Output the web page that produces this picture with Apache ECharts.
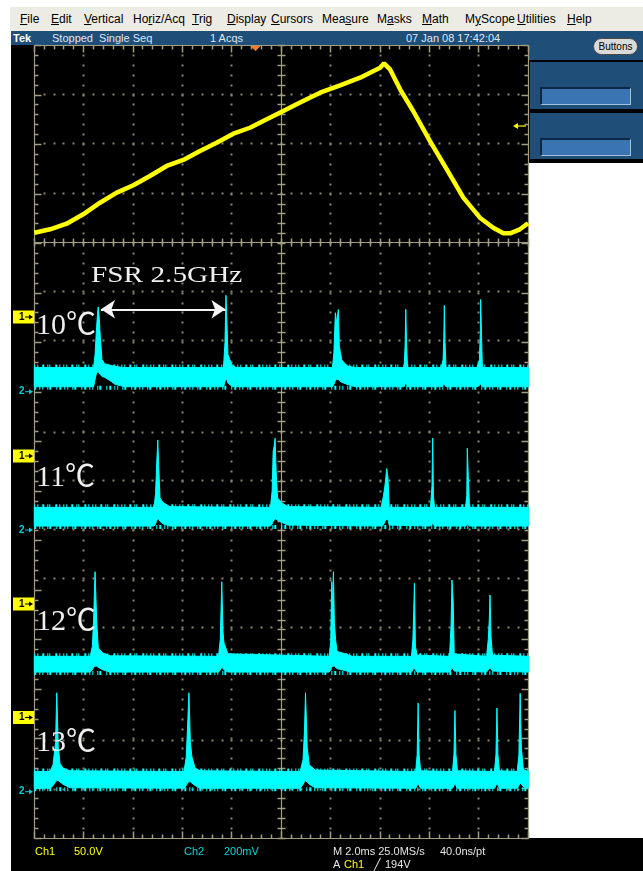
<!DOCTYPE html>
<html>
<head>
<meta charset="utf-8">
<script src="https://cdn.jsdelivr.net/npm/echarts@6/dist/echarts.min.js"></script>
<style>
  body { margin: 0; background: #fff; }
  #wrap { position: relative; width: 643px; height: 871px; overflow: hidden; background: #fff;
          font-family: 'Liberation Sans Narrow', 'Liberation Sans', Arial, sans-serif; }
  .abs { position: absolute; }
  #menubar { left: 10px; top: 7px; width: 633px; height: 24px; background: #ecebe4; }
  #menubar span { position: absolute; top: 0; line-height: 24px; font-size: 12px; color: #000; white-space: nowrap; }
  #status { left: 11px; top: 31px; width: 632px; height: 14px; background: #1f4e79; }
  #status span { position: absolute; top: 0; line-height: 14px; font-size: 11px; color: #dfe6ee; white-space: nowrap; }
  #rtop { left: 528px; top: 31px; width: 115px; height: 29px; background: #1f4e79; }
  #btn { left: 593px; top: 38px; width: 45px; height: 17px; box-sizing: border-box; background: #dadada;
         border: 1px solid #4a4a4a; border-radius: 9px; font-size: 10px; line-height: 15px; text-align: center; color: #000; }
  #rblack { left: 528px; top: 60px; width: 115px; height: 103px; background: #000; }
  .panel { left: 530px; width: 113px; background: #1f4e79; }
  .box { left: 540px; width: 91px; height: 18px; box-sizing: border-box; background: #3a75b1;
         border-top: 2px solid #0c2844; border-left: 2px solid #0c2844;
         border-right: 1px solid #a3c0dc; border-bottom: 1px solid #a3c0dc; }
  #screen { left: 11px; top: 45px; width: 517px; height: 826px; background: #000; }
  #strip { left: 11px; top: 838px; width: 632px; height: 33px; background: #000; }
  #main { left: 0; top: 0; width: 643px; height: 871px; z-index: 5; }
</style>
</head>
<body>
<div id="wrap">
  <div id="menubar" class="abs">
    <span style="left:10px"><u>F</u>ile</span>
    <span style="left:41px"><u>E</u>dit</span>
    <span style="left:74px"><u>V</u>ertical</span>
    <span style="left:123px">Ho<u>r</u>iz/Acq</span>
    <span style="left:182px"><u>T</u>rig</span>
    <span style="left:217px"><u>D</u>isplay</span>
    <span style="left:261px"><u>C</u>ursors</span>
    <span style="left:312px">Mea<u>s</u>ure</span>
    <span style="left:367px">M<u>a</u>sks</span>
    <span style="left:412px"><u>M</u>ath</span>
    <span style="left:455px">M<u>y</u>Scope</span>
    <span style="left:507px"><u>U</u>tilities</span>
    <span style="left:557px"><u>H</u>elp</span>
  </div>
  <div id="status" class="abs">
    <span style="left:2px;font-weight:bold;color:#fff">Tek</span>
    <span style="left:41px">Stopped&nbsp;&nbsp;Single Seq</span>
    <span style="left:199px">1 Acqs</span>
    <span style="left:395px">07 Jan 08 17:42:04</span>
  </div>
  <div id="rtop" class="abs"></div>
  <div id="btn" class="abs">Buttons</div>
  <div id="rblack" class="abs"></div>
  <div class="abs panel" style="top:62px;height:47px"></div>
  <div class="abs panel" style="top:113px;height:46px"></div>
  <div class="abs box" style="top:87px"></div>
  <div class="abs box" style="top:138px"></div>
  <div id="screen" class="abs"></div>
  <div id="strip" class="abs"></div>
  <div id="main" class="abs"></div>
</div>
<script>
// time axis: 2.0 ms/div, 10 div -> 0..20 ms
// Ch1 (yellow ramp), volts
const yelX = [0, 0.64, 1.31, 1.98, 2.66, 3.34, 4.01, 4.68, 5.36, 6.03, 6.71, 7.38, 8.06, 8.73, 9.41,
  10.08, 10.76, 11.57, 12.38, 13.19, 14.00, 14.16, 14.40, 14.81, 15.34, 16.02, 16.70, 17.37, 18.04,
  18.58, 18.99, 19.26, 19.66, 19.99];
const yelV = [9.9, 13.4, 19.1, 28.6, 40.4, 50.6, 58.1, 67.5, 77.7, 83.8, 92.9, 101.3, 110.5, 116.5, 125.1,
  133.5, 142.1, 152.1, 159.6, 167.3, 177.5, 181.9, 175.8, 155.5, 133.5, 103.0, 74.3, 45.5, 25.2,
  15.0, 9.3, 9.3, 13.4, 19.5];

// Ch2 transmission, mV above ground: upper and lower edge of the noise band
const t10X = [0, 2.40, 2.46, 2.52, 2.57, 2.59, 2.63, 2.67, 2.74, 2.86, 3.07, 3.27, 3.67,
  7.66, 7.72, 7.76, 7.80, 7.84, 8.00, 8.16,
  12.07, 12.13, 12.19, 12.24, 12.31, 12.35, 12.45, 12.66, 12.99,
  14.97, 15.01, 15.04, 15.07, 15.11,
  16.47, 16.55, 16.58, 16.60, 16.63, 16.67,
  17.92, 18.02, 18.06, 18.07, 18.11, 18.14, 20];
const t10Hi = [98, 98, 150, 260, 330, 345, 300, 225, 130, 113, 108, 102, 98,
  98, 200, 392, 280, 150, 110, 98,
  98, 160, 321, 279, 334, 183, 129, 105, 98,
  98, 180, 335, 200, 98,
  98, 130, 220, 351, 200, 98,
  98, 130, 250, 375, 220, 98, 98];
const t10Lo = [20, 20, 50, 76, 80, 80, 76, 70, 62, 58, 45, 30, 20,
  20, 40, 50, 50, 35, 22, 20,
  20, 30, 45, 50, 50, 45, 38, 30, 20,
  20, 30, 35, 30, 20,
  20, 25, 30, 30, 25, 20,
  20, 25, 30, 30, 25, 20, 20];

const t11X = [0, 4.85, 4.91, 4.96, 5.00, 5.04, 5.09, 5.21, 5.49,
  9.56, 9.63, 9.67, 9.71, 9.75, 9.79, 9.85, 10.03, 10.27,
  14.04, 14.13, 14.20, 14.27, 14.32, 14.37,
  16.04, 16.10, 16.13, 16.16, 16.20,
  17.46, 17.51, 17.53, 17.57, 17.62, 20];
const t11Hi = [92, 92, 150, 280, 366, 250, 130, 112, 95,
  92, 160, 320, 340, 373, 240, 130, 110, 95,
  92, 135, 183, 250, 210, 92,
  92, 180, 373, 140, 92,
  92, 140, 332, 220, 92, 92];
const t11Lo = [16, 16, 25, 40, 45, 45, 35, 25, 16,
  16, 25, 35, 40, 45, 45, 40, 30, 20,
  16, 20, 35, 45, 40, 20,
  16, 25, 25, 20, 16,
  16, 20, 25, 20, 16, 16];

const t12X = [0, 2.26, 2.35, 2.40, 2.46, 2.53, 2.59, 2.78, 3.07,
  7.46, 7.53, 7.56, 7.59, 7.64, 7.68, 7.84,
  11.94, 12.00, 12.04, 12.07, 12.11, 12.15, 12.20, 12.26, 12.65, 12.86,
  15.27, 15.33, 15.36, 15.39, 15.43, 15.50,
  16.81, 16.87, 16.91, 16.96, 17.00,
  18.31, 18.38, 18.42, 18.45, 18.49, 18.55, 20];
const t12Hi = [80, 80, 120, 228, 424, 215, 114, 93, 82,
  80, 150, 268, 383, 180, 134, 90,
  80, 140, 383, 300, 424, 215, 146, 100, 88, 80,
  80, 150, 261, 377, 120, 85,
  80, 200, 390, 302, 90,
  80, 150, 228, 329, 160, 85, 80];
const t12Lo = [16, 16, 25, 35, 40, 40, 35, 25, 16,
  16, 25, 30, 35, 30, 25, 16,
  16, 25, 35, 40, 40, 40, 35, 30, 20, 16,
  16, 25, 30, 30, 25, 16,
  16, 25, 30, 30, 20,
  16, 25, 30, 30, 30, 20, 16];

const t13X = [0, 0.64, 0.76, 0.86, 0.91, 0.97, 1.04, 1.16, 1.45,
  6.06, 6.15, 6.20, 6.26, 6.32, 6.38, 6.51, 6.71,
  10.76, 10.88, 10.94, 10.98, 11.05, 11.13, 11.37,
  15.44, 15.50, 15.54, 15.58, 15.64,
  16.93, 16.99, 17.03, 17.07, 17.13,
  18.63, 18.69, 18.73, 18.77, 18.83,
  19.55, 19.62, 19.67, 19.72, 19.80, 20];
const t13Hi = [82, 82, 110, 200, 402, 183, 115, 96, 85,
  82, 140, 251, 402, 200, 142, 96, 85,
  82, 130, 250, 402, 180, 110, 88,
  82, 150, 360, 150, 85,
  82, 150, 330, 150, 85,
  82, 150, 340, 150, 85,
  82, 150, 400, 180, 90, 82];
const t13Lo = [14, 14, 25, 40, 45, 45, 40, 30, 16,
  14, 25, 35, 40, 40, 35, 25, 14,
  14, 30, 40, 45, 40, 30, 16,
  14, 25, 30, 25, 14,
  14, 25, 30, 25, 14,
  14, 25, 30, 25, 14,
  14, 25, 35, 30, 20, 14];

const tempLabels = ['10℃', '11℃', '12℃', '13℃'];
const fsrText = 'FSR 2.5GHz';
const fsrX = [2.70, 7.74];   // ms, between the two modes of the 10℃ trace
const fsrLevel = 335;        // mV

const GRAT = '#a29c80', DOT = '#8a8570', CYAN = '#00ffff', YEL = '#ffff00';
const NOISE_TOP = [1, 2, 1, 4, 2, 3, 1, 1, 1, 5, 2, 2, 1, 3];
const NOISE_BOT = [2, 3, 1, 2, 1, 4, 1, 1, 2, 5, 1, 2];
const SANS = "'Liberation Sans Narrow','Liberation Sans',sans-serif";
const SERIF = "'Liberation Serif','Noto Sans CJK SC',serif";

const chart = echarts.init(document.getElementById('main'));

const G = (top, height) => ({ left: 34.3, top: top, width: 494, height: height, outerBoundsMode: 'none' });
const grid = [
  G(45.5, 792.5),   // 0 frame, 16 div
  G(45.5, 344.5),   // 1 dotted rows, upper screen
  G(432, 195),      // 2 dotted rows, middle
  G(692, 146),      // 3 dotted rows, bottom
  G(45.5, 197),     // 4 ch1 ramp, 50 V/div
  G(244.1, 147.6),  // 5 10℃, 200 mV/div
  G(382.4, 147.6),  // 6 11℃
  G(528.4, 147.6),  // 7 12℃
  G(644.1, 147.6)   // 8 13℃
];
const ax = (gi, max) => ({ gridIndex: gi, type: 'value', min: 0, max: max, show: false });
const xAxis = grid.map((g, i) => ax(i, 20));
const yAxis = [ax(0, 16), ax(1, 7), ax(2, 4), ax(3, 3), ax(4, 200), ax(5, 600), ax(6, 600), ax(7, 600), ax(8, 600)];

function band(name, gi, xs, hi, lo) {
  return {
    type: 'custom', name: name, xAxisIndex: gi, yAxisIndex: gi, silent: true, z: 4, clip: false,
    data: xs.map((x, i) => [x, hi[i], lo[i]]),
    renderItem: function (params, api) {
      if (params.dataIndex !== 0) return null;
      const pts = [];
      for (let i = 0; i < xs.length; i++) pts.push(api.coord([xs[i], hi[i]]));
      for (let i = xs.length - 1; i >= 0; i--) pts.push(api.coord([xs[i], lo[i]]));
      const t0 = api.coord([xs[0], hi[0]]), t1 = api.coord([xs[xs.length - 1], hi[0]]);
      const b0 = api.coord([xs[0], lo[0]]), b1 = api.coord([xs[xs.length - 1], lo[0]]);
      return { type: 'group', children: [
        { type: 'line', shape: { x1: t0[0], y1: t0[1] - 1, x2: t1[0], y2: t1[1] - 1 },
          style: { stroke: CYAN, lineWidth: 4, lineDash: NOISE_TOP } },
        { type: 'line', shape: { x1: b0[0], y1: b0[1] + 1, x2: b1[0], y2: b1[1] + 1 },
          style: { stroke: CYAN, lineWidth: 4, lineDash: NOISE_BOT } },
        { type: 'polygon', shape: { points: pts }, style: { fill: CYAN, stroke: CYAN, lineWidth: 1 } }
      ] };
    }
  };
}

const series = [
  { type: 'line', name: 'Ch1', xAxisIndex: 4, yAxisIndex: 4, silent: true, z: 5,
    data: yelX.map((x, i) => [x, yelV[i]]), symbol: 'none',
    lineStyle: { color: YEL, width: 4.5 } },
  band('10℃', 5, t10X, t10Hi, t10Lo),
  band('11℃', 6, t11X, t11Hi, t11Lo),
  band('12℃', 7, t12X, t12Hi, t12Lo),
  band('13℃', 8, t13X, t13Hi, t13Lo),
  { type: 'line', name: 'FSR', xAxisIndex: 5, yAxisIndex: 5, data: [], silent: true,
    markLine: { silent: true, animation: false, symbol: ['arrow', 'arrow'], symbolSize: 14,
      label: { show: false }, lineStyle: { color: '#f4f4f4', width: 2, type: 'solid' },
      data: [[{ coord: [fsrX[0], fsrLevel] }, { coord: [fsrX[1], fsrLevel] }]] } }
];

// screen annotations
const tempY = [326, 478.5, 622.5, 743];
const ch1MarkY = [317, 456, 604, 717.5];
const ch2MarkY = [391.7, 530, 791.7];
const gfx = [];
gfx.push({ type: 'text', x: 91, y: 276, scaleX: 1.22, z: 100,
  style: { text: fsrText, font: '24px ' + SERIF, fill: '#efefef', verticalAlign: 'middle' } });
tempLabels.forEach((t, i) => gfx.push({ type: 'text', x: 36, y: tempY[i], z: 100,
  style: { text: t, font: '30px ' + SERIF, fill: '#efefef', verticalAlign: 'middle' } }));
function smallArrow(x, y, color) {
  return [
    { type: 'line', z: 101, shape: { x1: x, y1: y, x2: x + 5, y2: y }, style: { stroke: color, lineWidth: 1 } },
    { type: 'polygon', z: 101, shape: { points: [[x + 4, y - 2.5], [x + 8, y], [x + 4, y + 2.5]] }, style: { fill: color } }
  ];
}
ch1MarkY.forEach(y => {
  gfx.push({ type: 'rect', z: 100, shape: { x: 13, y: y - 6.5, width: 21, height: 13 }, style: { fill: YEL } });
  gfx.push({ type: 'text', x: 19, y: y, z: 101,
    style: { text: '1', font: 'bold 10px ' + SANS, fill: '#000', verticalAlign: 'middle' } });
  smallArrow(25, y, '#000').forEach(e => gfx.push(e));
});
ch2MarkY.forEach(y => {
  gfx.push({ type: 'text', x: 19, y: y, z: 100,
    style: { text: '2', font: 'bold 10px ' + SANS, fill: '#00d0d0', verticalAlign: 'middle' } });
  smallArrow(25, y, '#00d0d0').forEach(e => gfx.push(e));
});
// trigger position and level markers
gfx.push({ type: 'polygon', z: 100, shape: { points: [[250.5, 46], [260.5, 46], [255.5, 51]] },
  style: { fill: '#ff7f27' } });
gfx.push({ type: 'line', z: 100, shape: { x1: 515, y1: 126, x2: 526, y2: 126 }, style: { stroke: YEL, lineWidth: 1.2 } });
gfx.push({ type: 'polygon', z: 100, shape: { points: [[513, 126], [518, 123], [518, 129]] }, style: { fill: YEL } });
// readouts under the graticule
const readout = [
  ['Ch1', 35, 852, YEL], ['50.0V', 74, 852, YEL], ['Ch2', 184, 852, '#00d8d8'], ['200mV', 224, 852, '#00d8d8'],
  ['M 2.0ms 25.0MS/s', 333, 852, '#e4e4e4'], ['40.0ns/pt', 440, 852, '#e4e4e4'],
  ['A', 333, 865, '#e4e4e4'], ['Ch1', 344, 865, YEL], ['╱', 374, 865, '#e4e4e4'], ['194V', 385, 865, '#e4e4e4']
];
readout.forEach(r => gfx.push({ type: 'text', x: r[1], y: r[2], z: 100,
  style: { text: r[0], font: '11px ' + SANS, fill: r[3], verticalAlign: 'middle' } }));

chart.setOption({
  animation: false,
  backgroundColor: 'transparent',
  grid: grid,
  xAxis: xAxis,
  yAxis: yAxis,
  series: series,
  graphic: { elements: gfx }
});

// graticule: placed through each grid's axes once they exist
const crisp = v => Math.round(v - 0.5) + 0.5;
const px = (gi, x, y) => { const p = chart.convertToPixel({ gridIndex: gi }, [x, y]); return [crisp(p[0]), crisp(p[1])]; };
const grat = [];
function seg(a, b, color, w) {
  grat.push({ type: 'line', z: 1, silent: true, shape: { x1: a[0], y1: a[1], x2: b[0], y2: b[1] },
    style: { stroke: color, lineWidth: w } });
}
function dot(x, y) {
  grat.push({ type: 'rect', z: 1, silent: true, shape: { x: x - 1, y: y - 1, width: 2, height: 2 },
    style: { fill: DOT } });
}
// vertical dotted lines, 5 dots per division
for (let x = 2; x < 20; x += 2) {
  if (x === 10) continue;
  for (let k = 1; k < 80; k++) { const p = px(0, x, k * 0.2); dot(p[0], p[1]); }
}
// horizontal dotted rows of the stitched screens
[[1, 1, 6], [2, 0, 4], [3, 1, 2]].forEach(([gi, from, to]) => {
  for (let r = from; r <= to; r++) {
    for (let k = 1; k < 50; k++) { const p = px(gi, k * 0.4, r); dot(p[0], p[1]); }
  }
});
// frame, centre line, split line
seg(px(0, 0, 0), px(0, 0, 16), GRAT, 1.2); seg(px(0, 20, 0), px(0, 20, 16), GRAT, 1.2);
seg(px(0, 0, 0), px(0, 20, 0), GRAT, 1.2); seg(px(0, 0, 16), px(0, 20, 16), GRAT, 1.2);
seg(px(0, 10, 0), px(0, 10, 16), GRAT, 1.2);
seg(px(4, 0, 0), px(4, 20, 0), GRAT, 1.2);
// ticks: 5 per division along frame and centre lines
for (let k = 0; k <= 50; k++) {
  const len = k % 5 === 0 ? 7 : 4;
  const b = px(0, k * 0.4, 0), t = px(0, k * 0.4, 16), s = px(4, k * 0.4, 0);
  seg(b, [b[0], b[1] - len], GRAT, 1.5); seg(t, [t[0], t[1] + len], GRAT, 1.5);
  seg([s[0], s[1] - 4], [s[0], s[1] + 4], GRAT, 1.5);
}
for (let k = 0; k <= 80; k++) {
  const len = k % 5 === 0 ? 7 : 4;
  const l = px(0, 0, k * 0.2), r = px(0, 20, k * 0.2), m = px(0, 10, k * 0.2);
  seg(l, [l[0] + len, l[1]], GRAT, 1.5); seg(r, [r[0] - len, r[1]], GRAT, 1.5);
  seg([m[0] - 4, m[1]], [m[0] + 4, m[1]], GRAT, 1.5);
}
chart.setOption({ graphic: { elements: gfx.concat(grat) } });
</script>
</body>
</html>
